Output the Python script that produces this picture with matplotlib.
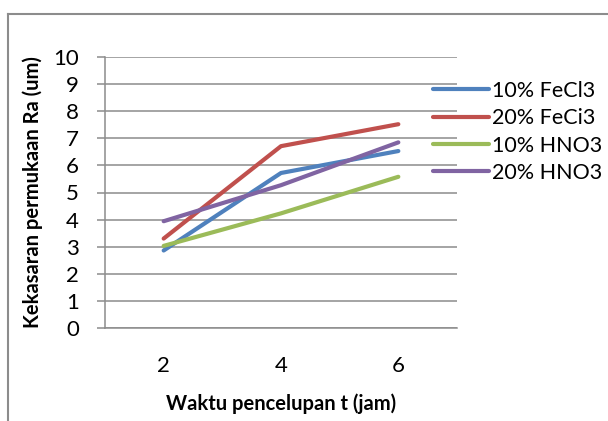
import matplotlib
matplotlib.use('Agg')
import matplotlib.pyplot as plt
from matplotlib.lines import Line2D

plt.rcParams['font.family'] = ['Lato', 'DejaVu Sans']

# data
waktu = ['2', '4', '6']
fecl3_10 = [2.86, 5.72, 6.53]
feci3_20 = [3.30, 6.71, 7.52]
hno3_10 = [3.03, 4.23, 5.58]
hno3_20 = [3.94, 5.27, 6.85]
labels = ['10% FeCl3', '20% FeCi3', '10% HNO3', '20% HNO3']
colors = ['#4F81BD', '#C0504D', '#9BBB59', '#8064A2']
grid_c = '#8C8C8C'

fig = plt.figure(figsize=(6.08, 4.21), dpi=100)
ax = fig.add_axes([105/608, 1-328/421, 352/608, 271/421])

x = list(range(len(waktu)))
for ys, lab, c in zip([fecl3_10, feci3_20, hno3_10, hno3_20], labels, colors):
    ax.plot(x, ys, color=c, linewidth=3.0, solid_capstyle='round', label=lab, zorder=3)

ax.set_xlim(-0.5, 2.5)
ax.set_ylim(0, 10)
ax.set_yticks(range(0, 11))
ax.set_xticks(x)
ax.set_xticklabels(waktu)
ax.yaxis.grid(True, color=grid_c, linewidth=1.1)
ax.set_axisbelow(True)
for s in ['top', 'right']:
    ax.spines[s].set_visible(False)
ax.spines['left'].set_color(grid_c)
ax.spines['bottom'].set_color(grid_c)
ax.spines['left'].set_linewidth(1.1)
ax.spines['bottom'].set_linewidth(1.1)
ax.tick_params(axis='y', length=5.8, width=1.1, color=grid_c, pad=13, labelsize=16)
ax.tick_params(axis='x', length=0, pad=20, labelsize=16)

ax.set_xlabel('Waktu pencelupan t (jam)', fontsize=14.5, fontweight='bold')
ax.set_ylabel('Kekasaran permukaan Ra (um)', fontsize=14.5, fontweight='bold')
ax.xaxis.set_label_coords(0.5, -0.24)
ax.yaxis.set_label_coords(-0.175, 0.5)

fig.legend(loc='upper left', bbox_to_anchor=(433/608, 1-81/421), frameon=False,
           fontsize=15.5, handlelength=2.6, handletextpad=0.15, labelspacing=0.34,
           borderaxespad=0, borderpad=0)

# outer chart frame (only top and left edges are inside the picture)
fig.add_artist(Line2D([8/608, 8/608], [0, 1-14/421], color='#8C8C8C', linewidth=1.5))
fig.add_artist(Line2D([8/608, 1], [1-14/421, 1-14/421], color='#8C8C8C', linewidth=1.5))

fig.savefig('out.png', dpi=100)
